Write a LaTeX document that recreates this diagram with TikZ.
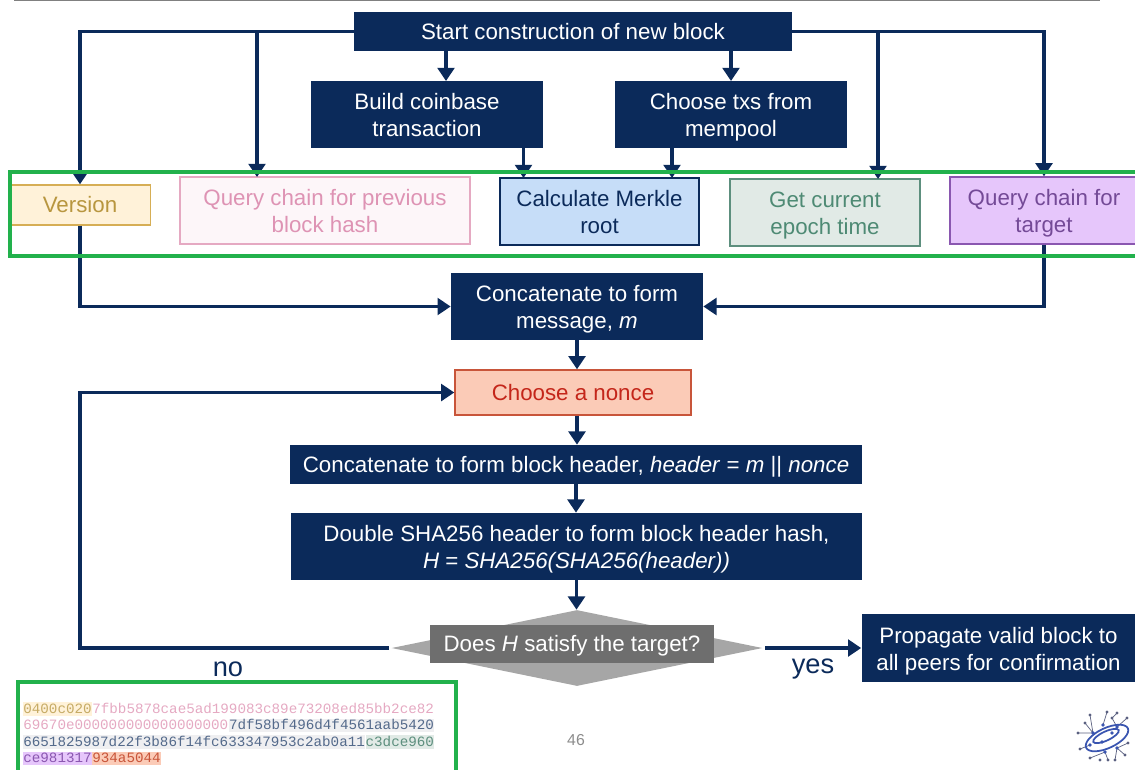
\documentclass[tikz,border=0pt]{standalone}
\usepackage{fontspec}
\setmainfont{Liberation Sans}
\setmonofont{Liberation Mono}
\usetikzlibrary{arrows.meta,positioning,shapes.geometric}
\definecolor{navy}{HTML}{0B2A5A}
\definecolor{framegreen}{HTML}{22B14C}
\definecolor{versionfill}{HTML}{FFF2D9}
\definecolor{versionline}{HTML}{D6AE55}
\definecolor{versiontext}{HTML}{B8963F}
\definecolor{prevfill}{HTML}{FDF6F9}
\definecolor{prevline}{HTML}{E5A9C2}
\definecolor{prevtext}{HTML}{DE93B4}
\definecolor{merklefill}{HTML}{C6DDF8}
\definecolor{epochfill}{HTML}{E1EAE6}
\definecolor{epochline}{HTML}{5D8F7E}
\definecolor{epochtext}{HTML}{4E8A74}
\definecolor{targetfill}{HTML}{E6C6FB}
\definecolor{targetline}{HTML}{8A57B0}
\definecolor{targettext}{HTML}{744A97}
\definecolor{noncefill}{HTML}{FBCBB7}
\definecolor{nonceline}{HTML}{C8553A}
\definecolor{noncetext}{HTML}{C4261A}
\definecolor{logoblue}{HTML}{3A55B0}
\definecolor{logogray}{HTML}{5A6080}
\newcommand{\boxstrut}{\rule[-2.6pt]{0pt}{14pt}}

\begin{document}
\begin{tikzpicture}[
	x=0.02cm, y=-0.02cm,
	box/.style={rectangle, align=center, inner sep=0pt, font=\fontsize{12.7}{15.4}\selectfont,
		execute at begin node=\boxstrut, execute at end node=\boxstrut},
	twolines/.style={execute at begin node=\rule{0pt}{28pt}},
	dark/.style={box, fill=navy, text=white},
	versionbox/.style={box, draw=versionline, fill=versionfill, text=versiontext, thick, minimum width=2.82cm, minimum height=0.8cm},
	prevbox/.style={box, twolines, draw=prevline, fill=prevfill, text=prevtext, thick, minimum width=5.8cm, minimum height=1.34cm},
	merklebox/.style={box, twolines, draw=navy, fill=merklefill, text=navy, thick, minimum width=3.98cm, minimum height=1.34cm},
	epochbox/.style={box, twolines, draw=epochline, fill=epochfill, text=epochtext, thick, minimum width=3.8cm, minimum height=1.34cm},
	targetbox/.style={box, twolines, draw=targetline, fill=targetfill, text=targettext, thick, minimum width=3.76cm, minimum height=1.34cm},
	noncebox/.style={box, draw=nonceline, fill=noncefill, text=noncetext, thick, minimum width=4.72cm, minimum height=0.9cm},
	flow/.style={-{Triangle[width=9.5pt,length=7.5pt]}, draw=navy, line width=2.2pt},
	frame/.style={draw=framegreen, line width=2.2pt},
	hexpart/.style={inner sep=0pt, font=\ttfamily\fontsize{8.1}{10}\selectfont, text height=6.2pt, text depth=1.6pt},
	hexversion/.style={hexpart, fill=versionfill, text=versiontext!80},
	hexprev/.style={hexpart, text=prevline},
	hexmerkle/.style={hexpart, fill=blue!6!gray!12, text=navy!70},
	hexepoch/.style={hexpart, fill=epochfill, text=epochline},
	hextarget/.style={hexpart, fill=targetfill, text=targetline},
	hexnonce/.style={hexpart, fill=noncefill, text=nonceline},
	label/.style={font=\fontsize{15.5}{18}\selectfont, text=navy}
	]
	\useasboundingbox (0,0) rectangle (1135,769);
	\clip (0,0) rectangle (1135,769);
	\draw[gray, line width=1pt] (14,0) -- (1100,0);
	
	\node[dark, minimum width=8.76cm, minimum height=0.78cm] (start) at (573,31.5) {Start construction of new block};
	\node[dark, twolines, minimum width=4.64cm, minimum height=1.34cm] (coinbase) at (427,114.5) {Build coinbase\\transaction};
	\node[dark, twolines, minimum width=4.64cm, minimum height=1.34cm] (txs) at (731,114.5) {Choose txs from\\mempool};
	
	\node[versionbox] (version) at (80,205) {Version};
	\node[prevbox] (prev) at (325,210.5) {Query chain for previous\\block hash};
	\node[merklebox] (merkle) at (599.5,211.5) {Calculate Merkle\\root};
	\node[epochbox] (epoch) at (825,212.5) {Get current\\epoch time};
	\node[targetbox] (target) at (1044,210.5) {Query chain for\\target};
	
	\node[dark, twolines, minimum width=5.04cm, minimum height=1.34cm] (concat) at (577,306.5) {Concatenate to form\\message, \textit{m}};
	\node[noncebox] (nonce) at (573,392.5) {Choose a nonce};
	\node[dark, minimum width=11.44cm, minimum height=0.78cm] (header) at (576,464.5) {Concatenate to form block header, \textit{header} = \textit{m} || \textit{nonce}};
	\node[dark, twolines, minimum width=11.42cm, minimum height=1.34cm] (hash) at (576.5,546.5) {Double SHA256 header to form block header hash,\\\textit{H} = \textit{SHA256(SHA256(header))}};
	
	\node[diamond, fill=black!35, inner sep=0pt, minimum width=7.42cm, minimum height=1.52cm, shape aspect=4.9] (check) at (577,648) {};
	\node[box, fill=black!57, text=white, minimum width=5.68cm, minimum height=0.76cm] (question) at (572,644) {Does \textit{H} satisfy the target?};
	\node[dark, twolines, minimum width=5.48cm, minimum height=1.36cm] (propagate) at (998.5,648) {Propagate valid block to\\all peers for confirmation};
	
	\node[label] (no) at (228,669) {no};
	\node[label] (yes) at (813,669) {yes};
	
	\coordinate (prevtop) at (257,177);
	\coordinate (merkleleft) at (523.5,178);
	\coordinate (merkleright) at (672,178);
	\coordinate (epochtop) at (878,179);
	\coordinate (coinbasetop) at (446,81);
	\coordinate (txstop) at (731,81);
	\coordinate (loopcorner) at (80,648);
	\coordinate (checkleft) at (389,648);
	\coordinate (checkright) at (765,648);
	
	\draw[flow] (start.west) -| (version.north);
	\draw[flow] (start.west -| prevtop) -- (prevtop);
	\draw[flow] (start.east) -| (target.north);
	\draw[flow] (start.east -| epochtop) -- (epochtop);
	\draw[flow] (start.south -| coinbasetop) -- (coinbasetop);
	\draw[flow] (start.south -| txstop) -- (txstop);
	\draw[flow] (coinbase.south -| merkleleft) -- (merkleleft);
	\draw[flow] (txs.south -| merkleright) -- (merkleright);
	
	\draw[flow] (version.south) |- (concat.west);
	\draw[flow] (target.south) |- (concat.east);
	\draw[flow] (concat.south) -- (concat.south |- nonce.north);
	\draw[flow] (nonce.south -| concat) -- (concat |- header.north);
	\draw[flow] (header.south) -- (hash.north -| header);
	\draw[flow] (hash.south) -- (check.north -| hash);
	\draw[flow] (checkleft) -- (loopcorner) |- (nonce.west);
	\draw[flow] (checkright) -- (propagate.west);
	
	\draw[frame] (10,172) rectangle (1140,256);
	
	\node[hexversion, anchor=west] (hexa) at (23,709) {0400c020};
	\node[hexprev, right=0pt of hexa] (hexb) {7fbb5878cae5ad199083c89e73208ed85bb2ce82};
	\node[hexprev, anchor=west] (hexc) at (23,725.5) {69670e000000000000000000};
	\node[hexmerkle, right=0pt of hexc] (hexd) {7df58bf496d4f4561aab5420};
	\node[hexmerkle, anchor=west] (hexe) at (23,742) {6651825987d22f3b86f14fc633347953c2ab0a11};
	\node[hexepoch, right=0pt of hexe] (hexf) {c3dce960};
	\node[hextarget, anchor=west] (hexg) at (23,758.5) {ce981317};
	\node[hexnonce, right=0pt of hexg] (hexh) {934a5044};
	\draw[frame] (18,682) rectangle (456,775);
	
	\node[text=black!45, font=\fontsize{9}{11}\selectfont] (page) at (576,740) {46};
	
	% logo
	\draw[logogray, line width=0.4pt] (1090,715) -- (1093,733) (1107,712) -- (1103,725) (1117,713) -- (1112,718) -- (1117,727) (1127,718) -- (1117,727) (1085,723) -- (1093,733) (1078,733) -- (1093,733) (1080,749) -- (1090,745) (1128,743) -- (1117,748) (1125,755) -- (1117,748) (1090,758) -- (1105,752) (1108,760) -- (1105,752) (1115,760) -- (1117,748);
	\draw[logoblue, line width=1pt] (1107,738) ellipse [x radius=23, y radius=10, rotate=25];
	\draw[logoblue, line width=1pt] (1106,736) ellipse [x radius=14, y radius=4.5, rotate=25];
	\fill[logoblue] (1093,733) circle (1.9) (1103,725) circle (1.9) (1117,727) circle (1.9) (1112,733) circle (1.9) (1102,742) circle (1.9) (1090,745) circle (1.9) (1105,752) circle (1.9) (1117,748) circle (1.9);
	\fill[logogray] (1090,715) circle (1.6) (1107,712) circle (1.6) (1117,713) circle (1.6) (1112,718) circle (1.6) (1127,718) circle (1.6) (1085,723) circle (1.6) (1078,733) circle (1.6) (1080,749) circle (1.6) (1128,743) circle (1.6) (1125,755) circle (1.6) (1090,758) circle (1.6) (1100,760) circle (1.6) (1108,760) circle (1.6) (1115,760) circle (1.6);
\end{tikzpicture}
\end{document}
